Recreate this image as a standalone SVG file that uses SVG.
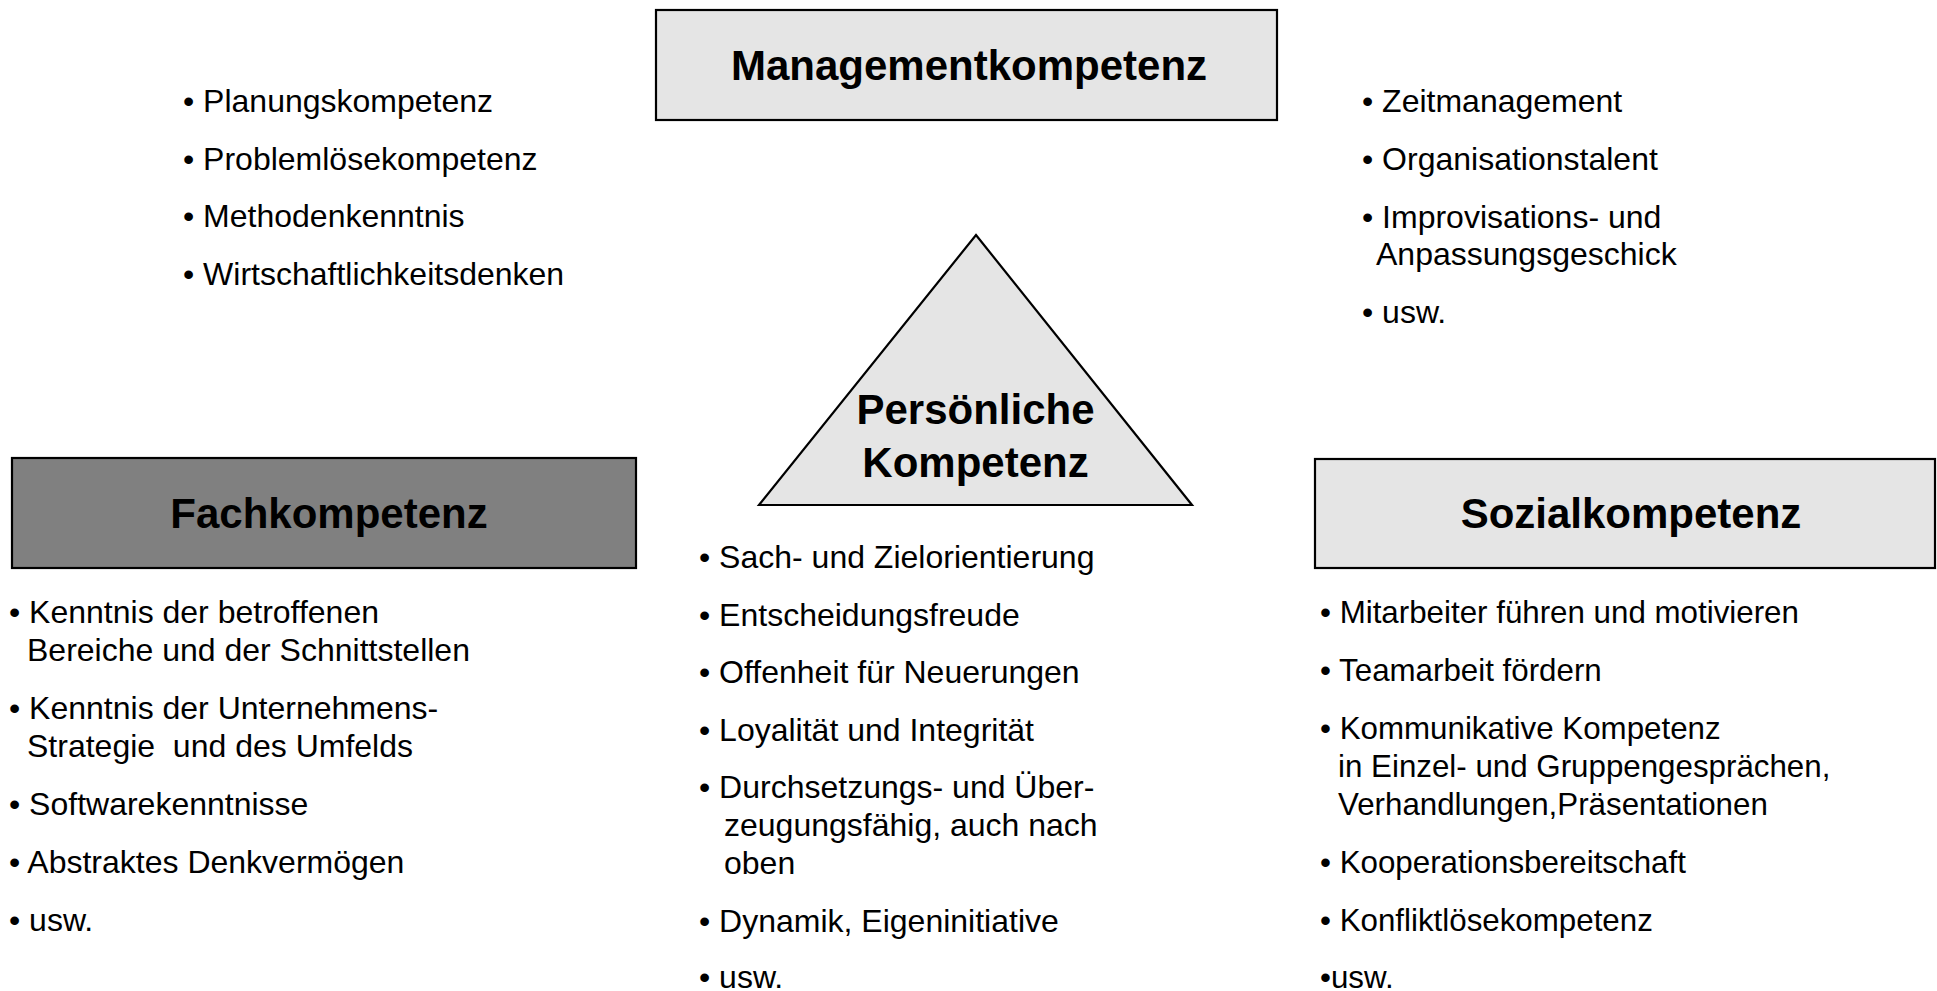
<svg xmlns="http://www.w3.org/2000/svg" width="1937" height="991" viewBox="0 0 1937 991">
  <style>
    .box { stroke: #000; stroke-width: 2.2; }
    .light { fill: #e5e5e5; }
    .dark { fill: #808080; }
    .title { font-family: "Liberation Sans", Arial, sans-serif; font-weight: bold; font-size: 42px; fill: #000; text-anchor: middle; }
    .item { font-family: "Liberation Sans", Arial, sans-serif; font-size: 32px; fill: #000; }
    #sozial-list .item { font-size: 31.3px; }
  </style>
  <rect x="0" y="0" width="1937" height="991" fill="#fff"/>

  <!-- Management competence: box at top with two lists beside it -->
  <g id="management">
    <rect class="box light" x="656" y="10" width="621" height="110"/>
    <text class="title" x="969" y="80">Managementkompetenz</text>
  </g>
  <g id="management-left">
    <text class="item" x="183" y="112">• Planungskompetenz</text>
    <text class="item" x="183" y="170">• Problemlösekompetenz</text>
    <text class="item" x="183" y="227">• Methodenkenntnis</text>
    <text class="item" x="183" y="285">• Wirtschaftlichkeitsdenken</text>
  </g>
  <g id="management-right">
    <text class="item" x="1362" y="112">• Zeitmanagement</text>
    <text class="item" x="1362" y="170">• Organisationstalent</text>
    <text class="item" x="1362" y="228">• Improvisations- und</text>
    <text class="item" x="1376" y="265">Anpassungsgeschick</text>
    <text class="item" x="1362" y="323">• usw.</text>
  </g>

  <!-- Personal competence: central triangle -->
  <g id="persoenlich">
    <polygon class="box light" points="976,235 1192,505 759,505"/>
    <text class="title" x="975.5" y="424">Persönliche</text>
    <text class="title" x="975.5" y="477">Kompetenz</text>
  </g>
  <g id="persoenlich-list">
    <text class="item" x="699" y="568">• Sach- und Zielorientierung</text>
    <text class="item" x="699" y="626">• Entscheidungsfreude</text>
    <text class="item" x="699" y="683">• Offenheit für Neuerungen</text>
    <text class="item" x="699" y="741">• Loyalität und Integrität</text>
    <text class="item" x="699" y="798">• Durchsetzungs- und Über-</text>
    <text class="item" x="724" y="836">zeugungsfähig, auch nach</text>
    <text class="item" x="724" y="874">oben</text>
    <text class="item" x="699" y="932">• Dynamik, Eigeninitiative</text>
    <text class="item" x="699" y="988">• usw.</text>
  </g>

  <!-- Professional competence: dark box, left -->
  <g id="fach">
    <rect class="box dark" x="12" y="458" width="624" height="110"/>
    <text class="title" x="329" y="528">Fachkompetenz</text>
  </g>
  <g id="fach-list">
    <text class="item" x="9" y="623">• Kenntnis der betroffenen</text>
    <text class="item" x="27" y="661">Bereiche und der Schnittstellen</text>
    <text class="item" x="9" y="719">• Kenntnis der Unternehmens-</text>
    <text class="item" x="27" y="757" xml:space="preserve">Strategie  und des Umfelds</text>
    <text class="item" x="9" y="815">• Softwarekenntnisse</text>
    <text class="item" x="9" y="873">• Abstraktes Denkvermögen</text>
    <text class="item" x="9" y="931">• usw.</text>
  </g>

  <!-- Social competence: light box, right -->
  <g id="sozial">
    <rect class="box light" x="1315" y="459" width="620" height="109"/>
    <text class="title" x="1631" y="528">Sozialkompetenz</text>
  </g>
  <g id="sozial-list">
    <text class="item" x="1320" y="623">• Mitarbeiter führen und motivieren</text>
    <text class="item" x="1320" y="681">• Teamarbeit fördern</text>
    <text class="item" x="1320" y="739">• Kommunikative Kompetenz</text>
    <text class="item" x="1338" y="777">in Einzel- und Gruppengesprächen,</text>
    <text class="item" x="1338" y="815">Verhandlungen,Präsentationen</text>
    <text class="item" x="1320" y="873">• Kooperationsbereitschaft</text>
    <text class="item" x="1320" y="931">• Konfliktlösekompetenz</text>
    <text class="item" x="1320" y="988">•usw.</text>
  </g>
</svg>
